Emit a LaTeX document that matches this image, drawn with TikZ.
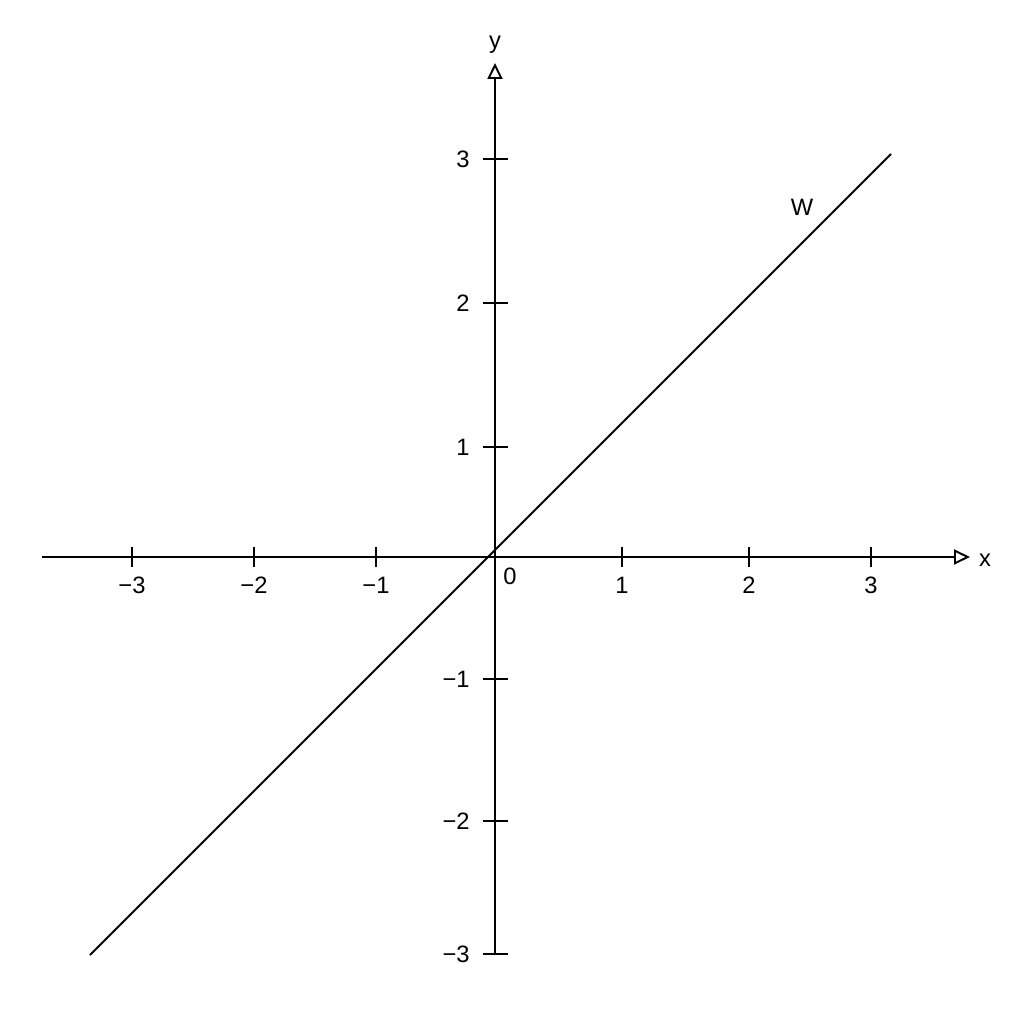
\documentclass[tikz,border=0pt]{standalone}
\usepackage{fontspec}
\setmainfont{Liberation Sans}
\usetikzlibrary{arrows.meta}

\begin{document}
\begin{tikzpicture}[
    x=0.02cm, y=0.02cm,
    axis/.style={line width=1.1pt, -{Triangle[open, length=0.32cm, width=0.3cm, line width=1.1pt]}},
    tick/.style={line width=1.1pt},
    curve/.style={line width=1.1pt},
    lbl/.style={inner sep=0pt, font=\fontsize{13.5}{16}\selectfont}
]
\useasboundingbox[fill=white] (-495,-467) rectangle (529,557);

% Axes
\coordinate (xstart) at (-453,0);
\coordinate (xend) at (475,0);
\coordinate (ystart) at (0,-398);
\coordinate (yend) at (0,494);
\draw[axis] (xstart) -- (xend);
\draw[axis] (ystart) -- (yend);
\node[lbl] (xlab) at (490,-3) {x};
\node[lbl] (ylab) at (0,512) {y};
\node[lbl] (orig) at (15,-19) {0};

% Ticks on x axis
\foreach \p/\t [count=\i] in {-363/−3, -241/−2, -119/−1, 127/1, 254/2, 376/3} {
    \draw[tick] (\p,-10) -- (\p,10);
    \node[lbl] (xt\i) at (\p,-28) {\t};
}

% Ticks on y axis
\foreach \p/\t [count=\i] in {398/3, 254/2, 110/1, -122/−1, -264/−2, -397/−3} {
    \draw[tick] (-12.5,\p) -- (12.5,\p);
    \node[lbl, anchor=east] (yt\i) at (-25,\p) {\t};
}

% Line W
\coordinate (wstart) at (-405,-398);
\coordinate (wend) at (396,403);
\draw[curve] (wstart) -- (wend);
\node[lbl] (wlab) at (307,350) {W};

\end{tikzpicture}
\end{document}
